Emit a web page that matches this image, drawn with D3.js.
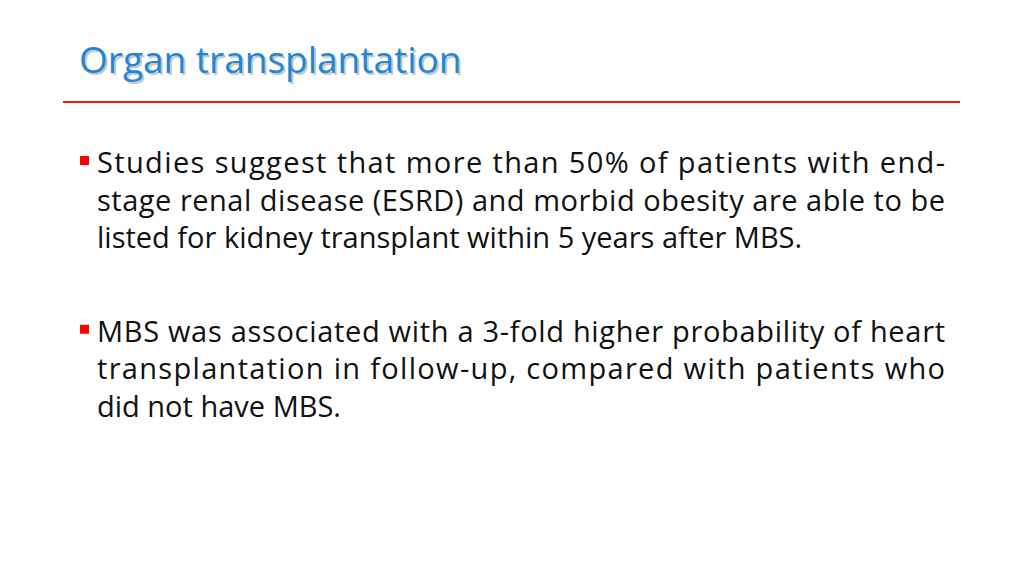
<!DOCTYPE html>
<html><head><meta charset="utf-8">
<script src="https://cdn.jsdelivr.net/npm/d3@7"></script>
<style>body{margin:0;background:#fff}</style>
</head><body>
<svg id="slide" width="1024" height="576"></svg>
<script>
const title = "Organ transplantation";
// each bullet: lines of text, justified flag per line
const bullets = [
  { lines: ["Studies suggest that more than 50% of patients with end-",
            "stage renal disease (ESRD) and morbid obesity are able to be",
            "listed for kidney transplant within 5 years after MBS."],
    justify: [true, true, false] },
  { lines: ["MBS was associated with a 3-fold higher probability of heart",
            "transplantation in follow-up, compared with patients who",
            "did not have MBS."],
    justify: [true, true, false] }
];

const svg = d3.select("#slide");
const font = "'Liberation Sans Narrow','Open Sans','Noto Sans',sans-serif";

// title with soft shadow
svg.append("text").attr("x", 81).attr("y", 75)
  .attr("font-family", font).attr("font-size", 37)
  .attr("fill", "#c8c8c8").text(title);
svg.append("text").attr("x", 79).attr("y", 73)
  .attr("font-family", font).attr("font-size", 37)
  .attr("fill", "#1f86d9").text(title);

svg.append("line").attr("x1", 63).attr("x2", 960).attr("y1", 102).attr("y2", 102)
  .attr("stroke", "#e31b1b").attr("stroke-width", 2);

const lineY = d3.scaleLinear().domain([0, 1]).range([173, 210.5]);
const blockStart = [0, 4.5];

bullets.forEach((b, bi) => {
  const y0 = lineY(blockStart[bi]);
  svg.append("rect").attr("x", 80).attr("y", y0 - 17)
    .attr("width", 9).attr("height", 9).attr("fill", "#ff0000");
  b.lines.forEach((t, li) => {
    const txt = svg.append("text")
      .attr("x", 97).attr("y", lineY(blockStart[bi] + li))
      .attr("font-family", font).attr("font-size", 29)
      .attr("fill", "#111").text(t);
    if (b.justify[li]) txt.attr("textLength", 848).attr("lengthAdjust", "spacing");
  });
});
</script>
</body></html>
